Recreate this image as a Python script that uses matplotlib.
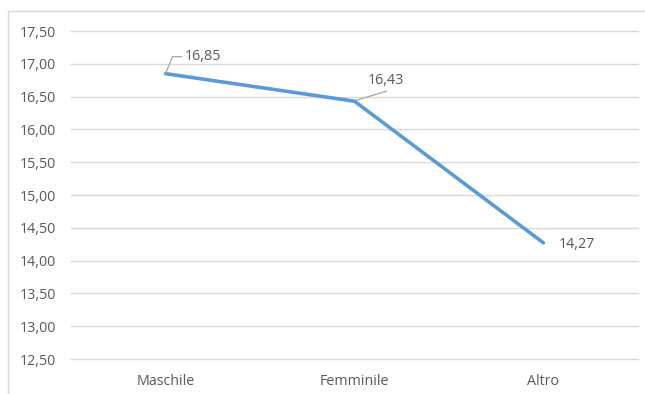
import matplotlib.pyplot as plt
from matplotlib.patches import Rectangle
from matplotlib.ticker import FuncFormatter

categories = ["Maschile", "Femminile", "Altro"]
values = [16.85, 16.43, 14.27]
y_ticks = [12.5, 13.0, 13.5, 14.0, 14.5, 15.0, 15.5, 16.0, 16.5, 17.0, 17.5]

line_color = "#5B9BD5"
text_color = "#595959"
grid_color = "#D9D9D9"
leader_color = "#A6A6A6"

plt.rcParams["font.family"] = ["Open Sans", "DejaVu Sans"]
plt.rcParams["font.size"] = 10.3

fig = plt.figure(figsize=(6.45, 3.94), dpi=100)
ax = fig.add_axes([0.1101, 0.0888, 0.879, 0.8325])

x = list(range(len(categories)))
ax.plot(x, values, color=line_color, linewidth=2.6, solid_capstyle="round", zorder=3)

ax.set_xlim(-0.5, len(categories) - 0.5)
ax.set_ylim(y_ticks[0], y_ticks[-1])
ax.set_yticks(y_ticks)
ax.yaxis.set_major_formatter(FuncFormatter(lambda v, _: f"{v:.2f}".replace(".", ",")))
ax.set_xticks(x)
ax.set_xticklabels(categories)

for s in ax.spines.values():
    s.set_visible(False)
ax.tick_params(axis="both", length=0, colors=text_color)
ax.tick_params(axis="y", pad=10.5)
ax.tick_params(axis="x", pad=10.5)
ax.yaxis.grid(True, color=grid_color, linewidth=1.0)
for gl in ax.get_ygridlines():
    gl.set_clip_on(False)
ax.set_axisbelow(True)

# data labels: pixel offsets for the text and the leader-line vertices
label_text_offsets = [(19, 17), (13, 21), (15, -2)]
leader_paths = [
    [(0, 0), (7, 17), (16, 17)],
    [(2, 1), (32, 10)],
    None,
]

fig.canvas.draw()
for xi, val, (dx, dy), path in zip(x, values, label_text_offsets, leader_paths):
    px, py = ax.transData.transform((xi, val))
    if path is not None:
        lx = [px + p[0] for p in path]
        ly = [py + p[1] for p in path]
        fig.add_artist(plt.Line2D(lx, ly, color=leader_color, linewidth=0.9,
                                  transform=None, zorder=4))
    fig.text(px + dx, py + dy, f"{val:.2f}".replace(".", ","), transform=None,
             ha="left", va="center", color=text_color, fontsize=10.3)

# outer chart frame
fig.add_artist(Rectangle((7.5 / 645, -0.1), 1.2, 1.1 - 11.5 / 394,
                         transform=fig.transFigure, fill=False,
                         edgecolor=grid_color, linewidth=1.0))

fig.savefig("out.png", dpi=100)
